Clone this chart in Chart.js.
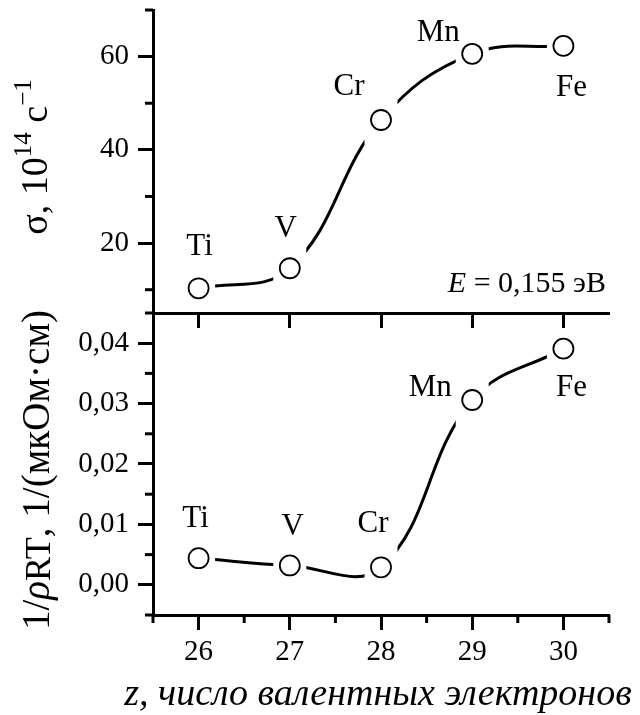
<!DOCTYPE html>
<html>
<head>
<meta charset="utf-8">
<script src="https://cdn.jsdelivr.net/npm/chart.js@4.4.1/dist/chart.umd.min.js"></script>
<style>
  body { margin: 0; background: #fff; }
  #wrap { position: relative; width: 640px; height: 715px; }
  canvas { position: absolute; left: 0; }
  #top { top: 0; }
  #bottom { top: 300px; }
</style>
</head>
<body>
<div id="wrap">
  <canvas id="top" width="640" height="330"></canvas>
  <canvas id="bottom" width="640" height="415"></canvas>
</div>
<script>
// metals and their number of valence electrons
const elements = ["Ti", "V", "Cr", "Mn", "Fe"];
const valence = [26, 27, 28, 29, 30];
// relaxation rate sigma at E = 0.155 eV, 10^14 1/s
const sigma = [10.3, 14.6, 46.4, 60.6, 62.3];
// room temperature conductivity 1/rho, 1/(uOhm*cm)
const conductivity = [0.0044, 0.0032, 0.0029, 0.0306, 0.0391];

const xTicks = [26, 27, 28, 29, 30];
const xMinorTicks = [25.5, 26.5, 27.5, 28.5, 29.5, 30.5];
const sigmaTicks = [20, 40, 60];
const sigmaMinorTicks = [10, 30, 50, 70];
const condTicks = [0, 0.01, 0.02, 0.03, 0.04];
const condMinorTicks = [-0.005, 0.005, 0.015, 0.025, 0.035, 0.045];

const SERIF = "'Liberation Serif', 'Times New Roman', serif";
Chart.defaults.font.family = SERIF;
Chart.defaults.color = "#000";

function font(size, italic) {
  return (italic ? "italic " : "") + size + "px " + SERIF;
}

// text made of runs with their own size, baseline shift and style
function drawRich(ctx, parts, x, y, opts = {}) {
  let width = 0;
  parts.forEach((p) => {
    ctx.font = font(p.size, p.italic);
    p.w = ctx.measureText(p.t).width;
    width += p.w;
  });
  ctx.save();
  ctx.translate(x, y);
  if (opts.rotate) ctx.rotate(-Math.PI / 2);
  ctx.fillStyle = "#000";
  ctx.textAlign = "left";
  ctx.textBaseline = "alphabetic";
  let cx = opts.align === "right" ? -width : -width / 2;
  parts.forEach((p) => {
    ctx.font = font(p.size, p.italic);
    ctx.fillText(p.t, cx, p.shift || 0);
    cx += p.w;
  });
  ctx.restore();
}

function minorTicks(xMinor, yMinor) {
  return {
    id: "minorTicks",
    afterDraw(chart) {
      const ctx = chart.ctx;
      const xs = chart.scales.x;
      const ys = chart.scales.y;
      ctx.save();
      ctx.strokeStyle = "#000";
      ctx.lineWidth = 3;
      xMinor.forEach((v) => {
        const px = xs.getPixelForValue(v);
        ctx.beginPath();
        ctx.moveTo(px, xs.top);
        ctx.lineTo(px, xs.top + 8);
        ctx.stroke();
      });
      yMinor.forEach((v) => {
        const py = ys.getPixelForValue(v);
        ctx.beginPath();
        ctx.moveTo(ys.right, py);
        ctx.lineTo(ys.right - 8, py);
        ctx.stroke();
      });
      ctx.restore();
    },
  };
}

// the curve stops a fixed horizontal distance short of each marker
const GAP = 16.5;
const lineGaps = {
  id: "lineGaps",
  beforeDatasetDraw(chart, args) {
    if (args.index !== 0) return;
    const pts = args.meta.data;
    const ctx = chart.ctx;
    ctx.save();
    ctx.beginPath();
    for (let i = 0; i < pts.length - 1; i++) {
      ctx.rect(pts[i].x + GAP, 0, pts[i + 1].x - pts[i].x - 2 * GAP, chart.height);
    }
    ctx.clip();
  },
  afterDatasetDraw(chart, args) {
    if (args.index === 0) chart.ctx.restore();
  },
};

function pointLabels(offsets, extra) {
  return {
    id: "pointLabels",
    afterDatasetsDraw(chart) {
      const ctx = chart.ctx;
      const meta = chart.getDatasetMeta(1);
      ctx.save();
      ctx.fillStyle = "#000";
      ctx.font = font(31);
      ctx.textAlign = "center";
      ctx.textBaseline = "middle";
      meta.data.forEach((pt, i) => {
        ctx.fillText(elements[i], pt.x + offsets[i][0], pt.y + offsets[i][1]);
      });
      ctx.restore();
      if (extra) extra(chart.ctx, chart);
    },
  };
}

function datasets(values) {
  return [
    {
      // smooth curve through the points
      data: valence.map((z, i) => ({ x: z, y: values[i] })),
      showLine: true,
      borderColor: "#000",
      borderWidth: 3,
      tension: 0.4,
      pointRadius: 0,
      order: 2,
    },
    {
      data: valence.map((z, i) => ({ x: z, y: values[i] })),
      showLine: false,
      pointRadius: 10,
      pointHoverRadius: 10,
      pointBackgroundColor: "#fff",
      pointBorderColor: "#000",
      pointBorderWidth: 1.8,
      order: 1,
    },
  ];
}

const gridOpts = { drawOnChartArea: false, tickLength: 15, tickWidth: 3, tickColor: "#000" };

function xAxis(showLabels, height) {
  return {
    type: "linear",
    min: 25.5,
    max: 30.5,
    ticks: { display: showLabels, padding: 5, font: { size: 29 } },
    grid: gridOpts,
    border: { width: 3, color: "#000" },
    afterBuildTicks: (s) => { s.ticks = xTicks.map((v) => ({ value: v })); },
    afterFit: (s) => {
      s.height = height;
      s.paddingLeft = 0;
      s.paddingRight = 0;
    },
  };
}

function yAxis(min, max, values, fmt) {
  return {
    min: min,
    max: max,
    ticks: { padding: 9, font: { size: 29 }, callback: fmt },
    grid: gridOpts,
    border: { width: 3, color: "#000" },
    afterBuildTicks: (s) => { s.ticks = values.map((v) => ({ value: v })); },
    afterFit: (s) => {
      s.width = 153;
      s.paddingTop = 0;
      s.paddingBottom = 0;
    },
  };
}

const common = {
  responsive: false,
  animation: false,
  events: [],
  plugins: { legend: { display: false }, tooltip: { enabled: false } },
};

// upper panel: sigma
new Chart(document.getElementById("top"), {
  type: "scatter",
  data: { datasets: datasets(sigma) },
  options: {
    ...common,
    layout: { autoPadding: false, padding: { left: 0, top: 10, right: 31, bottom: 0 } },
    scales: {
      x: xAxis(false, 17),
      y: yAxis(5, 70, sigmaTicks, (v) => v),
    },
  },
  plugins: [
    lineGaps,
    minorTicks([], sigmaMinorTicks),
    pointLabels([[1, -41], [-4, -39], [-32, -33], [-34, -21], [8, 42]], (ctx) => {
      drawRich(ctx, [
        { t: "E", size: 30, italic: true },
        { t: " = 0,155 эВ", size: 30 },
      ], 606, 292, { align: "right" });
      drawRich(ctx, [
        { t: "σ, 10", size: 38 },
        { t: "14", size: 25, shift: -16 },
        { t: " с", size: 38 },
        { t: "−1", size: 25, shift: -16 },
      ], 47, 157, { rotate: true });
    }),
  ],
});

// lower panel: 1/rho
new Chart(document.getElementById("bottom"), {
  type: "scatter",
  data: { datasets: datasets(conductivity) },
  options: {
    ...common,
    layout: { autoPadding: false, padding: { left: 0, top: 13, right: 31, bottom: 0 } },
    scales: {
      x: xAxis(true, 100),
      y: yAxis(-0.005, 0.045, condTicks, (v) => v.toFixed(2).replace(".", ",")),
    },
  },
  plugins: [
    lineGaps,
    minorTicks(xMinorTicks, condMinorTicks),
    pointLabels([[-3, -39], [3, -39], [-8, -43], [-42, -12], [8, 39]], (ctx) => {
      drawRich(ctx, [
        { t: "1/", size: 39 },
        { t: "ρ", size: 39, italic: true },
        { t: "RT", size: 36, shift: 1 },
        { t: ", 1/(мкОм·см)", size: 39 },
      ], 49, 170, { rotate: true });
      drawRich(ctx, [
        { t: "z, число валентных электронов", size: 38, italic: true },
      ], 378, 405);
    }),
  ],
});
</script>
</body>
</html>
